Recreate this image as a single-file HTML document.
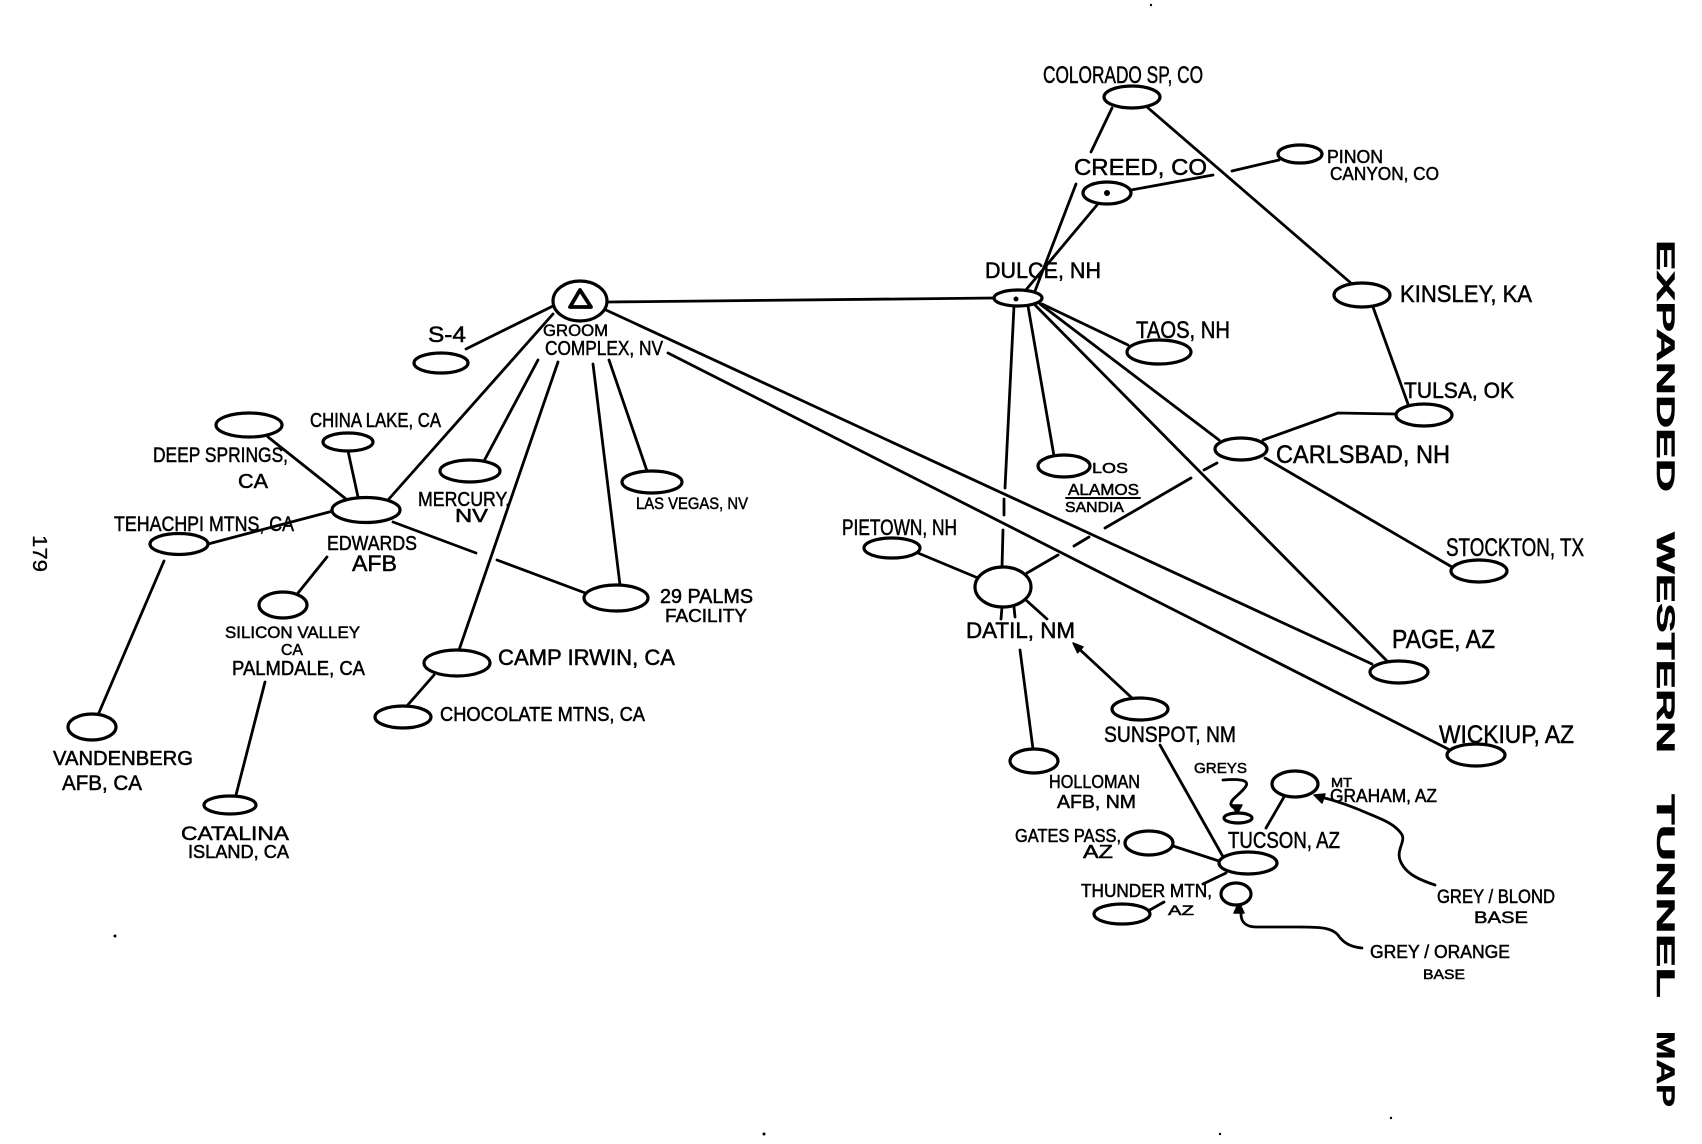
<!DOCTYPE html>
<html><head><meta charset="utf-8"><style>
html,body{margin:0;padding:0;background:#fff;}
svg{display:block;}
text{font-family:"Liberation Sans",sans-serif;fill:#000;stroke:#000;stroke-width:0.5;}
</style></head><body>
<svg width="1702" height="1144" viewBox="0 0 1702 1144" xmlns="http://www.w3.org/2000/svg">
<rect width="1702" height="1144" fill="#fff"/>
<g stroke="#000" stroke-width="2.8" fill="none" stroke-linecap="round" stroke-linejoin="round">
<!-- Groom edges -->
<line x1="466" y1="349" x2="553" y2="306"/>
<line x1="553" y1="314" x2="388" y2="500"/>
<line x1="538" y1="360" x2="484" y2="461"/>
<line x1="558" y1="362" x2="459" y2="650"/>
<line x1="593" y1="364" x2="620" y2="585"/>
<line x1="609" y1="360" x2="647" y2="471"/>
<line x1="608" y1="302" x2="994" y2="298"/>
<line x1="606" y1="310" x2="1372" y2="664"/>
<line x1="668" y1="353" x2="1448" y2="749"/>
<!-- Edwards edges -->
<line x1="348" y1="451" x2="358" y2="497"/>
<line x1="268" y1="437" x2="346" y2="499"/>
<line x1="208" y1="544" x2="333" y2="511"/>
<line x1="327" y1="557" x2="298" y2="593"/>
<line x1="393" y1="522" x2="476" y2="553"/>
<line x1="497" y1="560" x2="588" y2="594"/>
<line x1="164" y1="561" x2="98" y2="715"/>
<line x1="265" y1="682" x2="236" y2="795"/>
<line x1="434" y1="675" x2="406" y2="707"/>
<!-- Right side -->
<line x1="1112" y1="108" x2="1091" y2="152"/>
<line x1="1076" y1="184" x2="1035" y2="291"/>
<line x1="1097" y1="205" x2="1020" y2="297"/>
<line x1="1131" y1="190" x2="1213" y2="175"/>
<line x1="1232" y1="171" x2="1279" y2="160"/>
<line x1="1147" y1="107" x2="1352" y2="284"/>
<line x1="1373" y1="307" x2="1408" y2="404"/>
<polyline points="1396,414 1338,413 1263,440"/>
<line x1="1265" y1="458" x2="1452" y2="567"/>
<line x1="1217" y1="463" x2="1204" y2="470"/>
<line x1="1191" y1="478" x2="1105" y2="528"/>
<line x1="1089" y1="537" x2="1074" y2="546"/>
<line x1="1058" y1="555" x2="1027" y2="573"/>
<line x1="1042" y1="304" x2="1128" y2="345"/>
<line x1="1040" y1="304" x2="1219" y2="440"/>
<line x1="1035" y1="305" x2="1388" y2="662"/>
<line x1="1028" y1="306" x2="1054" y2="456"/>
<line x1="1014" y1="306" x2="1005" y2="488"/>
<line x1="1004" y1="499" x2="1004" y2="515"/>
<line x1="1003" y1="530" x2="1002" y2="567"/>
<line x1="918" y1="553" x2="978" y2="578"/>
<line x1="1002" y1="607" x2="1001" y2="619"/>
<line x1="1014" y1="607" x2="1015" y2="617"/>
<line x1="1027" y1="601" x2="1047" y2="619"/>
<line x1="1020" y1="650" x2="1033" y2="749"/>
<line x1="1132" y1="698" x2="1076" y2="646"/>
<line x1="1160" y1="745" x2="1226" y2="862"/>
<line x1="1173" y1="846" x2="1222" y2="862"/>
<line x1="1284" y1="797" x2="1266" y2="828"/>
<line x1="1226" y1="873" x2="1203" y2="884"/>
<line x1="1148" y1="911" x2="1164" y2="902"/>
<line x1="1066" y1="498" x2="1140" y2="498" stroke-width="2"/>
<!-- curvy arrows -->
<path d="M1223,780 C1235,779 1250,779 1246,786 C1242,793 1232,798 1231,803 C1230,807 1236,808 1237,810"/>
<path d="M1435,885 C1420,880 1405,874 1400,860 C1396,848 1408,840 1400,832 C1392,822 1378,818 1360,810 C1345,804 1330,799 1320,797"/>
<path d="M1362,948 C1352,947 1344,944 1338,935 C1332,928 1322,927 1300,927 L1256,927 C1246,927 1241,922 1241,914 L1240,908"/>
</g>
<!-- arrowheads -->
<g fill="#000" stroke="#000" stroke-width="1.5" stroke-linejoin="round">
<polygon points="1073,643 1083,647 1077.6,652.7"/>
<polygon points="1237,814 1232,805 1242,805"/>
<polygon points="1314,795 1325,794 1322,803"/>
<polygon points="1239,902 1234,913 1244,913"/>
</g>
<!-- nodes -->
<g stroke="#000" stroke-width="3.2" fill="#fff">
<ellipse cx="1132" cy="97" rx="28" ry="11"/>
<ellipse cx="1107" cy="193" rx="24" ry="11"/>
<ellipse cx="1300" cy="154" rx="22" ry="9"/>
<ellipse cx="1018" cy="298" rx="24" ry="8"/>
<ellipse cx="1362" cy="295" rx="28" ry="12"/>
<ellipse cx="1159" cy="352" rx="32" ry="12"/>
<ellipse cx="1424" cy="415" rx="28" ry="11"/>
<ellipse cx="1241" cy="449" rx="26" ry="11"/>
<ellipse cx="1064" cy="466" rx="26" ry="11"/>
<ellipse cx="1479" cy="571" rx="28" ry="11"/>
<ellipse cx="892" cy="548" rx="28" ry="10"/>
<ellipse cx="1003" cy="587" rx="28" ry="20"/>
<ellipse cx="1399" cy="672" rx="29" ry="11"/>
<ellipse cx="1140" cy="709" rx="28" ry="11"/>
<ellipse cx="1476" cy="755" rx="29" ry="11"/>
<ellipse cx="1034" cy="761" rx="24" ry="12"/>
<ellipse cx="1238" cy="818" rx="14" ry="5"/>
<ellipse cx="1295" cy="784" rx="23" ry="13"/>
<ellipse cx="1248" cy="863" rx="29" ry="11"/>
<ellipse cx="1149" cy="843" rx="24" ry="12"/>
<ellipse cx="1122" cy="914" rx="28" ry="10"/>
<ellipse cx="1236" cy="894" rx="15" ry="11"/>
<ellipse cx="580" cy="301" rx="27" ry="20"/>
<ellipse cx="441" cy="363" rx="27" ry="10"/>
<ellipse cx="348" cy="442" rx="25" ry="9"/>
<ellipse cx="249" cy="425" rx="33" ry="12"/>
<ellipse cx="366" cy="510" rx="34" ry="12.5"/>
<ellipse cx="470" cy="471" rx="30" ry="11"/>
<ellipse cx="652" cy="482" rx="30" ry="11"/>
<ellipse cx="179" cy="544" rx="29" ry="10.5"/>
<ellipse cx="283" cy="605" rx="24" ry="13"/>
<ellipse cx="616" cy="598" rx="32" ry="13"/>
<ellipse cx="457" cy="663" rx="33" ry="13"/>
<ellipse cx="403" cy="717" rx="28" ry="11"/>
<ellipse cx="92" cy="727" rx="24" ry="13"/>
<ellipse cx="230" cy="805" rx="26" ry="9"/>
</g>
<g fill="#000">
<circle cx="1107" cy="193" r="3"/>
<circle cx="1016" cy="299" r="2.5"/>
<circle cx="1151" cy="5" r="1.2"/>
<circle cx="764" cy="1134" r="1.5"/>
<circle cx="115" cy="936" r="1.5"/>
<circle cx="1391" cy="1118" r="1.2"/>
<circle cx="1220" cy="1134" r="1.2"/>
</g>
<polygon points="580,290 570,307 591,307" fill="none" stroke="#000" stroke-width="3.8" stroke-linejoin="round"/>
<!-- labels -->
<g lengthAdjust="spacingAndGlyphs">
<text x="1043" y="83" font-size="24" textLength="160" lengthAdjust="spacingAndGlyphs">COLORADO SP, CO</text>
<text x="1074" y="175" font-size="23" textLength="133" lengthAdjust="spacingAndGlyphs">CREED, CO</text>
<text x="1327" y="163" font-size="18" textLength="56" lengthAdjust="spacingAndGlyphs">PINON</text>
<text x="1330" y="180" font-size="18" textLength="109" lengthAdjust="spacingAndGlyphs">CANYON, CO</text>
<text x="985" y="278" font-size="22" textLength="116" lengthAdjust="spacingAndGlyphs">DULCE, NH</text>
<text x="1400" y="302" font-size="24" textLength="132" lengthAdjust="spacingAndGlyphs">KINSLEY, KA</text>
<text x="1136" y="338" font-size="24" textLength="94" lengthAdjust="spacingAndGlyphs">TAOS, NH</text>
<text x="1404" y="398" font-size="22" textLength="110" lengthAdjust="spacingAndGlyphs">TULSA, OK</text>
<text x="1276" y="463" font-size="25" textLength="174" lengthAdjust="spacingAndGlyphs">CARLSBAD, NH</text>
<text x="1092" y="473" font-size="15" textLength="36" lengthAdjust="spacingAndGlyphs">LOS</text>
<text x="1068" y="495" font-size="16" textLength="71" lengthAdjust="spacingAndGlyphs">ALAMOS</text>
<text x="1065" y="512" font-size="15" textLength="59" lengthAdjust="spacingAndGlyphs">SANDIA</text>
<text x="1446" y="556" font-size="25" textLength="138" lengthAdjust="spacingAndGlyphs">STOCKTON, TX</text>
<text x="842" y="535" font-size="22" textLength="115" lengthAdjust="spacingAndGlyphs">PIETOWN, NH</text>
<text x="966" y="638" font-size="22" textLength="109" lengthAdjust="spacingAndGlyphs">DATIL, NM</text>
<text x="1392" y="648" font-size="26" textLength="103" lengthAdjust="spacingAndGlyphs">PAGE, AZ</text>
<text x="1104" y="742" font-size="22" textLength="132" lengthAdjust="spacingAndGlyphs">SUNSPOT, NM</text>
<text x="1439" y="743" font-size="25" textLength="135" lengthAdjust="spacingAndGlyphs">WICKIUP, AZ</text>
<text x="1049" y="788" font-size="18" textLength="91" lengthAdjust="spacingAndGlyphs">HOLLOMAN</text>
<text x="1057" y="808" font-size="18" textLength="79" lengthAdjust="spacingAndGlyphs">AFB, NM</text>
<text x="1194" y="773" font-size="15" textLength="53" lengthAdjust="spacingAndGlyphs">GREYS</text>
<text x="1331" y="787" font-size="13" textLength="21" lengthAdjust="spacingAndGlyphs">MT</text>
<text x="1330" y="802" font-size="18" textLength="107" lengthAdjust="spacingAndGlyphs">GRAHAM, AZ</text>
<text x="1228" y="848" font-size="23" textLength="112" lengthAdjust="spacingAndGlyphs">TUCSON, AZ</text>
<text x="1015" y="842" font-size="18" textLength="106" lengthAdjust="spacingAndGlyphs">GATES PASS,</text>
<text x="1083" y="858" font-size="18" textLength="30" lengthAdjust="spacingAndGlyphs">AZ</text>
<text x="1081" y="897" font-size="18" textLength="131" lengthAdjust="spacingAndGlyphs">THUNDER MTN,</text>
<text x="1168" y="915" font-size="14" textLength="26" lengthAdjust="spacingAndGlyphs">AZ</text>
<text x="1437" y="903" font-size="19" textLength="118" lengthAdjust="spacingAndGlyphs">GREY / BLOND</text>
<text x="1474" y="923" font-size="17" textLength="54" lengthAdjust="spacingAndGlyphs">BASE</text>
<text x="1370" y="958" font-size="18" textLength="140" lengthAdjust="spacingAndGlyphs">GREY / ORANGE</text>
<text x="1423" y="979" font-size="14" textLength="42" lengthAdjust="spacingAndGlyphs">BASE</text>
<text x="428" y="342" font-size="22" textLength="38" lengthAdjust="spacingAndGlyphs">S-4</text>
<text x="543" y="336" font-size="17" textLength="65" lengthAdjust="spacingAndGlyphs">GROOM</text>
<text x="545" y="355" font-size="20" textLength="118" lengthAdjust="spacingAndGlyphs">COMPLEX, NV</text>
<text x="310" y="427" font-size="20" textLength="131" lengthAdjust="spacingAndGlyphs">CHINA LAKE, CA</text>
<text x="153" y="462" font-size="21" textLength="135" lengthAdjust="spacingAndGlyphs">DEEP SPRINGS,</text>
<text x="238" y="488" font-size="20" textLength="30" lengthAdjust="spacingAndGlyphs">CA</text>
<text x="327" y="550" font-size="20" textLength="90" lengthAdjust="spacingAndGlyphs">EDWARDS</text>
<text x="352" y="571" font-size="22" textLength="45" lengthAdjust="spacingAndGlyphs">AFB</text>
<text x="418" y="506" font-size="20" textLength="92" lengthAdjust="spacingAndGlyphs">MERCURY,</text>
<text x="455" y="522" font-size="18" textLength="33" lengthAdjust="spacingAndGlyphs">NV</text>
<text x="636" y="509" font-size="17" textLength="112" lengthAdjust="spacingAndGlyphs">LAS VEGAS, NV</text>
<text x="114" y="531" font-size="21" textLength="180" lengthAdjust="spacingAndGlyphs">TEHACHPI MTNS, CA</text>
<text x="225" y="638" font-size="17" textLength="135" lengthAdjust="spacingAndGlyphs">SILICON VALLEY</text>
<text x="281" y="655" font-size="16" textLength="22" lengthAdjust="spacingAndGlyphs">CA</text>
<text x="232" y="675" font-size="20" textLength="133" lengthAdjust="spacingAndGlyphs">PALMDALE, CA</text>
<text x="660" y="603" font-size="20" textLength="93" lengthAdjust="spacingAndGlyphs">29 PALMS</text>
<text x="665" y="622" font-size="18" textLength="82" lengthAdjust="spacingAndGlyphs">FACILITY</text>
<text x="498" y="665" font-size="22" textLength="177" lengthAdjust="spacingAndGlyphs">CAMP IRWIN, CA</text>
<text x="440" y="721" font-size="20" textLength="205" lengthAdjust="spacingAndGlyphs">CHOCOLATE MTNS, CA</text>
<text x="53" y="765" font-size="20" textLength="140" lengthAdjust="spacingAndGlyphs">VANDENBERG</text>
<text x="62" y="790" font-size="21" textLength="80" lengthAdjust="spacingAndGlyphs">AFB, CA</text>
<text x="181" y="840" font-size="19" textLength="108" lengthAdjust="spacingAndGlyphs">CATALINA</text>
<text x="188" y="858" font-size="18" textLength="101" lengthAdjust="spacingAndGlyphs">ISLAND, CA</text>
</g>
<!-- page number -->
<text transform="translate(33,535) rotate(90)" x="0" y="0" font-size="20" textLength="37" lengthAdjust="spacingAndGlyphs" style="stroke-width:0.3">179</text>
<!-- title -->
<g style="font-weight:bold">
<text transform="translate(1657,240) rotate(90)" x="0" y="0" font-size="25" textLength="252" lengthAdjust="spacingAndGlyphs">EXPANDED</text>
<text transform="translate(1657,532) rotate(90)" x="0" y="0" font-size="25" textLength="221" lengthAdjust="spacingAndGlyphs">WESTERN</text>
<text transform="translate(1657,794) rotate(90)" x="0" y="0" font-size="25" textLength="204" lengthAdjust="spacingAndGlyphs">TUNNEL</text>
<text transform="translate(1657,1031) rotate(90)" x="0" y="0" font-size="25" textLength="76" lengthAdjust="spacingAndGlyphs">MAP</text>
</g>
</svg>
</body></html>
